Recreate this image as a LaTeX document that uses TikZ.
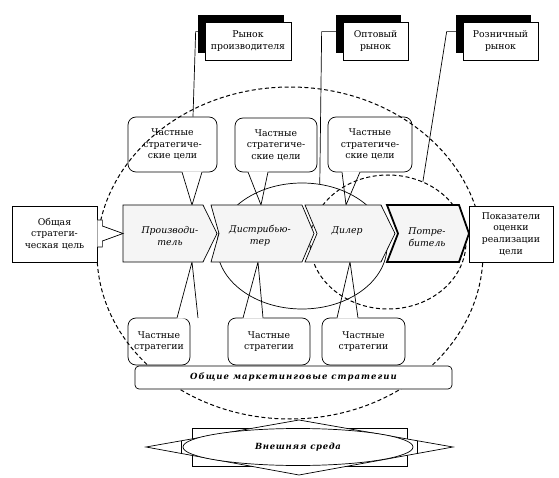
\documentclass[tikz,border=0pt]{standalone}
\usepackage{fontspec}
\setmainfont{DejaVu Serif}
\usetikzlibrary{shapes.geometric,shadows,calc}
\begin{document}
\begin{tikzpicture}[x=1pt,y=-1pt,
  every node/.style={font=\fontsize{9.3}{11.7}\selectfont},
  ln/.style={line width=0.7pt},
  mkt/.style={draw, fill=white, line width=0.7pt, align=center, inner sep=0pt, minimum height=38pt,
    general shadow={fill=black, shadow xshift=-7pt, shadow yshift=7pt}},
  bub/.style={draw, fill=white, line width=0.7pt, rounded corners=8pt, align=center, inner sep=0pt},
  box/.style={draw, fill=white, line width=0.7pt, align=center, inner sep=0pt},
  chev/.style={draw, fill=black!4, line width=0.7pt},
  lbl/.style={align=center, inner sep=0pt, font=\fontsize{9.3}{11.7}\selectfont\itshape},
  bigdash/.style={draw, dashed, dash pattern=on 4pt off 2.6pt, line width=1pt},
  oval/.style={ellipse, inner sep=0pt},
  heavy/.style={font=\fontsize{8.5}{10}\selectfont\bfseries\itshape},
]
\useasboundingbox (0,0) rectangle (559,478);

% ---- top callouts
\node[bub, minimum width=89pt, minimum height=55pt] (b1) at (172.5,144.5) {Частные\\стратегиче-\\ские цели};
\node[bub, minimum width=82pt, minimum height=54pt] (b2) at (276,145) {Частные\\стратегиче-\\ские цели};
\node[bub, minimum width=84pt, minimum height=55pt] (b3) at (370,144.5) {Частные\\стратегиче-\\ские цели};
% ---- bottom callouts
\node[bub, minimum width=62pt, minimum height=47pt] (c1) at (159,341.5) {Частные\\стратегии};
\node[bub, minimum width=82pt, minimum height=47pt] (c2) at (269,341.5) {Частные\\стратегии};
\node[bub, minimum width=83pt, minimum height=47pt] (c3) at (363.5,341.5) {Частные\\стратегии};

\coordinate (t1) at (192,205);
\coordinate (t2) at (261,205);
\coordinate (t3) at (346,205);
\coordinate (u1) at (192,262);
\coordinate (u2) at (258,262);
\coordinate (u3) at (350,262);

% pointers (top)
\fill[white] (181.5,171.3) -- (t1) -- (202.5,171.3) -- cycle;
\draw[ln] (182,172) -- (t1) -- (202,172);
\fill[white] (247.5,171.3) -- (t2) -- (268.5,171.3) -- cycle;
\draw[ln] (248,172) -- (t2) -- (268,172);
\fill[white] (341.5,171.3) -- (t3) -- (360.5,171.3) -- cycle;
\draw[ln] (342,172) -- (t3) -- (360,172);
% pointers (bottom)
\fill[white] (176.5,318.7) -- (u1) -- (198.5,318.7) -- cycle;
\draw[ln] (177,318) -- (u1) -- (198,318);
\fill[white] (242.5,318.7) -- (u2) -- (263.5,318.7) -- cycle;
\draw[ln] (243,318) -- (u2) -- (263,318);
\fill[white] (336.5,318.7) -- (u3) -- (358.5,318.7) -- cycle;
\draw[ln] (337,318) -- (u3) -- (358,318);

% ---- ellipses
\node[oval, draw, ln, minimum width=170pt, minimum height=126pt] (de) at (302,246) {};
\node[oval, bigdash, minimum width=156pt, minimum height=134pt] (dc) at (388,242) {};
\node[oval, bigdash, minimum width=386pt, minimum height=332pt] (bg) at (290,253) {};

% ---- market boxes and their connectors
\node[mkt, minimum width=86pt] (rp) at (248,41) {Рынок\\производителя};
\node[mkt, minimum width=65pt] (om) at (375.5,41) {Оптовый\\рынок};
\node[mkt, minimum width=75pt] (rr) at (500.5,41) {Розничный\\рынок};
\coordinate (b1c) at ($(b1.north)+(20.5,0)$);
\draw[ln] ($(rp.north west)+(0,10)$) -- ++(-9,0) -- (b1c);
\draw[ln] ($(om.north west)+(0,10)$) -- ++(-21,0) -- (de.74);
\draw[ln] ($(rr.north west)+(0,10)$) -- ++(-16,0) -- (dc.60);

% ---- chevrons
\draw[chev] (123,205) -- (203,205) -- (217,233.5) -- (203,262) -- (123,262) -- cycle;
\draw[chev] (211,205) -- (302,205) -- (314,233.5) -- (302,262) -- (211,262) -- (219,233.5) -- cycle;
\draw[chev] (305,205) -- (381,205) -- (395,233.5) -- (381,262) -- (305,262) -- (317,233.5) -- cycle;
\draw[chev, line width=1.8pt] (387,205) -- (459,205) -- (469,233.5) -- (459,262) -- (387,262) -- (398,233.5) -- cycle;
\node[lbl] (p1) at (170,236) {Производи-\\тель};
\node[lbl] (p2) at (260,236) {Дистрибью-\\тер};
\node[lbl] (p3) at (347,231) {Дилер};
\node[lbl] (p4) at (427,237) {Потре-\\битель};

% ---- side boxes
\node[box, minimum width=85pt, minimum height=56pt] (og) at (54.5,234) {Общая\\стратеги-\\ческая цель};
\draw[ln, fill=white] ($(og.east)+(0,-14)$) -- ++(5,0) -- ++(0,6) -- (123,233.5) -- ($(og.east)+(5,7)$) -- ++(0,6) -- ++(-5,0);
\node[box, minimum width=84pt, minimum height=56pt] (pk) at (511,234) {Показатели\\оценки\\реализации\\цели};

% ---- bottom bar
\node[box, heavy, rounded corners=4pt, minimum width=317pt, minimum height=23pt] (bar) at (293.5,377.5)
  {\addfontfeature{LetterSpace=12}Общие маркетинговые стратегии};

% ---- external environment
\draw[ln] (192,428) rectangle (407,466);
\draw[ln, fill=white] (146,447) -- (299,420) -- (453,447) -- (299,475) -- cycle;
\draw[ln] (181,440.8) -- (181,453.2);
\draw[ln] (417,440.7) -- (417,453.3);
\node[oval, draw, ln, fill=white, heavy, minimum width=230pt, minimum height=37pt] (env) at (298,447)
  {\addfontfeature{LetterSpace=8}Внешняя среда};
\end{tikzpicture}
\end{document}
